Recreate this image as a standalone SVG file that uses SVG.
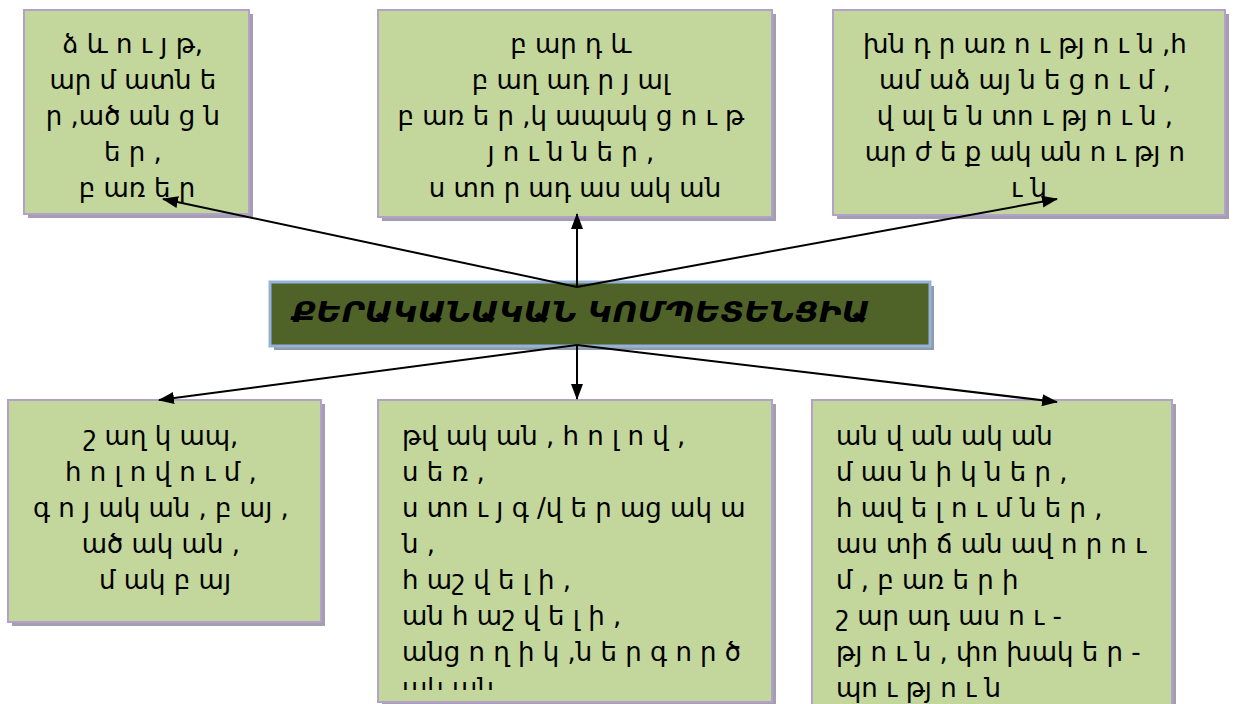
<svg xmlns="http://www.w3.org/2000/svg" width="1240" height="704" viewBox="0 0 1240 704">
  <style>
    .box { fill: #c3d69b; stroke: #b3a2c7; stroke-width: 2; }
    .shadow { fill: #a59db3; }
    .txt { font-family: "DejaVu Sans", "Noto Sans", sans-serif; font-size: 26px; fill: #000; }
    .mid { text-anchor: middle; }
    .conn { stroke: #000; stroke-width: 2; fill: none; marker-end: url(#arrow); }
  </style>
  <defs>
    <marker id="arrow" markerUnits="userSpaceOnUse" viewBox="0 0 16 12" refX="15" refY="6" markerWidth="16" markerHeight="12" orient="auto">
      <path d="M0,0 L16,6 L0,12 z" fill="#000"/>
    </marker>
    <clipPath id="clip5">
      <rect x="380" y="402" width="390" height="288"/>
    </clipPath>
  </defs>

  <rect width="1240" height="704" fill="#fff"/>

  <!-- top-left: morphemes -->
  <g id="node-morph">
    <rect class="shadow" x="28" y="14" width="225" height="204"/>
    <rect class="box" x="24" y="10" width="225" height="204"/>
    <text class="txt mid" x="137" y="53">
      <tspan x="137">ձ և ո ւ յ թ,</tspan>
      <tspan x="137" dy="36">ար մ ատն ե</tspan>
      <tspan x="137" dy="36">ր ,ած ան ց ն</tspan>
      <tspan x="137" dy="36">ե ր ,</tspan>
      <tspan x="137" dy="36">բ առ ե ր</tspan>
    </text>
  </g>

  <!-- top-middle: compound words -->
  <g id="node-compound">
    <rect class="shadow" x="382" y="14" width="394" height="207"/>
    <rect class="box" x="378" y="10" width="394" height="207"/>
    <text class="txt mid" x="575" y="53">
      <tspan x="575">բ ար դ  և</tspan>
      <tspan x="575" dy="36">բ աղ ադ ր յ ալ</tspan>
      <tspan x="575" dy="36">բ առ ե ր ,կ ապակ ց ո ւ թ</tspan>
      <tspan x="575" dy="36">յ ո ւ ն ն ե ր ,</tspan>
      <tspan x="575" dy="36">ս տո ր ադ աս ակ ան</tspan>
    </text>
  </g>

  <!-- top-right: government, agreement -->
  <g id="node-valency">
    <rect class="shadow" x="837" y="14" width="392" height="205"/>
    <rect class="box" x="833" y="10" width="392" height="205"/>
    <text class="txt mid" x="1029" y="53">
      <tspan x="1029">խն դ ր առ ո ւ թյ ո ւ ն ,հ</tspan>
      <tspan x="1029" dy="36">ամ աձ այ ն ե ց ո ւ մ ,</tspan>
      <tspan x="1029" dy="36">վ ալ ե ն տո ւ թյ ո ւ ն ,</tspan>
      <tspan x="1029" dy="36">ար ժ ե ք ակ ան ո ւ թյ ո</tspan>
      <tspan x="1029" dy="36">ւ ն</tspan>
    </text>
  </g>

  <!-- centre: grammatical competence -->
  <g id="node-main">
    <rect x="274" y="286" width="660" height="64" fill="#8f9aab"/>
    <rect x="270" y="282" width="660" height="64" fill="#4f6228" stroke="#95b3d7" stroke-width="3"/>
    <text x="292" y="322" font-family="DejaVu Sans, sans-serif" font-size="28" font-weight="bold" font-style="italic" fill="#000" textLength="578" lengthAdjust="spacingAndGlyphs">ՔԵՐԱԿԱՆԱԿԱՆ ԿՈՄՊԵՏԵՆՑԻԱ</text>
  </g>

  <!-- bottom-left: parts of speech -->
  <g id="node-pos">
    <rect class="shadow" x="12" y="404" width="313" height="222"/>
    <rect class="box" x="8" y="400" width="313" height="222"/>
    <text class="txt mid" x="165" y="445">
      <tspan x="165">շ աղ կ ապ,</tspan>
      <tspan x="165" dy="36">հ ո լ ո վ ո ւ մ ,</tspan>
      <tspan x="165" dy="36">գ ո յ ակ ան , բ այ ,</tspan>
      <tspan x="165" dy="36">ած ակ ան ,</tspan>
      <tspan x="165" dy="36">մ ակ բ այ</tspan>
    </text>
  </g>

  <!-- bottom-middle: categories -->
  <g id="node-categories">
    <rect class="shadow" x="382" y="404" width="394" height="304"/>
    <rect class="box" x="378" y="400" width="394" height="302"/>
    <text class="txt" x="402" y="445" clip-path="url(#clip5)">
      <tspan x="402">թվ ակ ան , հ ո լ ո վ ,</tspan>
      <tspan x="402" dy="36">ս ե ռ ,</tspan>
      <tspan x="402" dy="36">ս տո ւ յ գ /վ ե ր աց ակ ա</tspan>
      <tspan x="402" dy="36">ն ,</tspan>
      <tspan x="402" dy="36">հ աշ վ ե լ ի ,</tspan>
      <tspan x="402" dy="36">ան հ աշ վ ե լ ի ,</tspan>
      <tspan x="402" dy="36">անց ո ղ ի կ ,ն ե ր գ ո ր ծ</tspan>
      <tspan x="402" dy="36">ակ ան</tspan>
    </text>
  </g>

  <!-- bottom-right: syntax -->
  <g id="node-syntax">
    <rect class="shadow" x="816" y="404" width="360" height="310"/>
    <rect class="box" x="812" y="400" width="360" height="310"/>
    <text class="txt" x="836" y="445">
      <tspan x="836">ան վ ան ակ ան</tspan>
      <tspan x="836" dy="36">մ աս ն ի կ ն ե ր ,</tspan>
      <tspan x="836" dy="36">հ ավ ե լ ո ւ մ ն ե ր ,</tspan>
      <tspan x="836" dy="36">աս տի ճ ան ավ ո ր ո ւ</tspan>
      <tspan x="836" dy="36">մ , բ առ ե ր ի</tspan>
      <tspan x="836" dy="36">շ ար ադ աս ո ւ -</tspan>
      <tspan x="836" dy="36">թյ ո ւ ն , փո խակ ե ր -</tspan>
      <tspan x="836" dy="36">պո ւ թյ ո ւ ն</tspan>
    </text>
  </g>

  <!-- connectors -->
  <g id="connectors">
    <line class="conn" x1="577" y1="287" x2="163" y2="199"/>
    <line class="conn" x1="577" y1="287" x2="577" y2="214"/>
    <line class="conn" x1="577" y1="287" x2="1057" y2="199"/>
    <line class="conn" x1="577" y1="345" x2="159" y2="400"/>
    <line class="conn" x1="577" y1="345" x2="577" y2="399"/>
    <line class="conn" x1="577" y1="345" x2="1057" y2="402"/>
  </g>
</svg>
